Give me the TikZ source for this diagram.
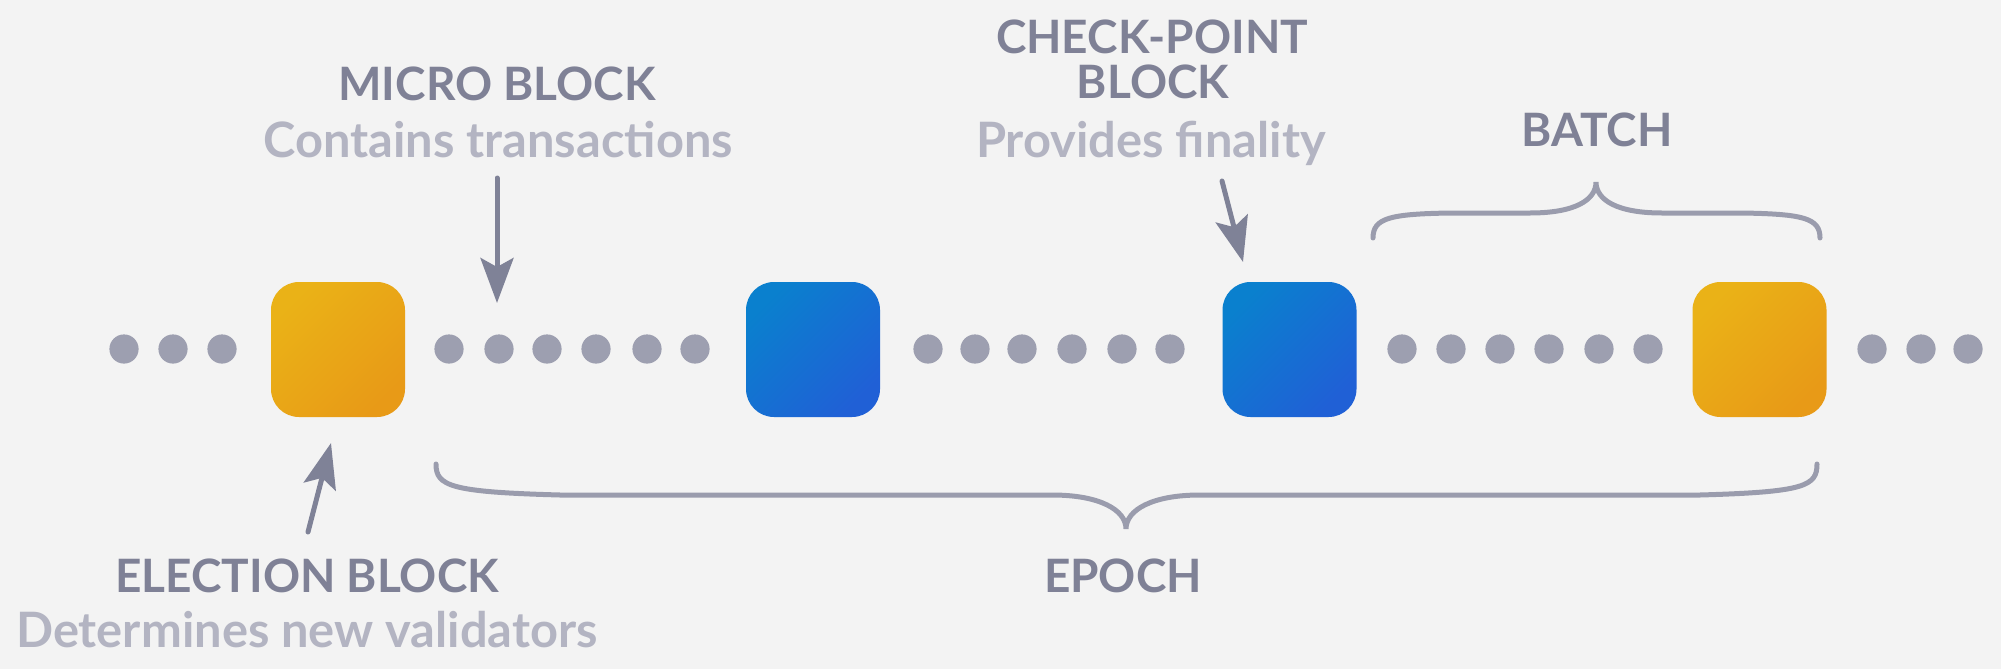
\documentclass[tikz,border=0pt]{standalone}
\usepackage{fontspec}
\setmainfont{Lato}
\usetikzlibrary{arrows.meta}
\definecolor{bgc}{HTML}{F3F3F3}
\definecolor{titlec}{HTML}{7F8196}
\definecolor{subc}{HTML}{B3B4C2}
\definecolor{dotc}{HTML}{9D9FB0}
\definecolor{bracec}{HTML}{9A9CAD}
\definecolor{arrowc}{HTML}{7F8297}
\definecolor{yellowa}{HTML}{EAB217}
\definecolor{yellowb}{HTML}{E89A17}
\definecolor{bluea}{HTML}{0A80CE}
\definecolor{blueb}{HTML}{2060D6}
\begin{document}
\begin{tikzpicture}[x=0.5pt, y=-0.5pt,
    every node/.style={font=\fontsize{23}{28}\selectfont\bfseries},
    title/.style={text=titlec, anchor=base},
    sub/.style={text=subc, anchor=base, font=\fontsize{24.4}{28}\selectfont\bfseries},
    block/.style={minimum width=67pt, minimum height=67.5pt, rounded corners=14pt, inner sep=0pt},
    electblock/.style={block, top color=yellowa, bottom color=yellowb, shading angle=45},
    microblock/.style={block, top color=bluea, bottom color=blueb, shading angle=45},
    pointer/.style={arrowc, line width=2.5pt, line cap=round, -{Stealth[length=22.5pt, width=16.5pt, inset=4.5pt]}},
    curly/.style={bracec, line width=2.5pt, line cap=round}]
    \useasboundingbox (0,0) rectangle (2001,669);
    \fill[bgc] (0,0) rectangle (2001,669);

    % Chain of blocks
    \foreach \x in {124,173,222,449,499,547,596,647,695,928,975,1022,1072,1122,1170,1402,1451,1500,1549,1599,1648,1872,1921,1968}
        \fill[dotc] (\x,349) circle (7.3pt);
    \node[electblock] (elect) at (338,349.5) {};
    \node[microblock] (micro) at (813,349.5) {};
    \node[microblock] (check) at (1289.5,349.5) {};
    \node[electblock] (elect2) at (1759.5,349.5) {};

    % Labels
    \node[title] (microtitle) at (497,100) {MICRO BLOCK};
    \node[sub] (microsub) at (498,157) {Contains transactions};
    \node[title] (checktitle) at (1152,53) {CHECK-POINT};
    \node[title] (checktitle2) at (1153,98) {BLOCK};
    \node[sub] (checksub) at (1151,157) {Provides finality};
    \node[title] (batchtitle) at (1597,146) {BATCH};
    \node[title] (electtitle) at (307,592) {ELECTION BLOCK};
    \node[sub] (electsub) at (307,647) {Determines new validators};
    \node[title] (epochtitle) at (1123,592) {EPOCH};

    % Pointers
    \coordinate (microtail) at (497,178);
    \coordinate (microtip) at (497,303);
    \coordinate (checktail) at (1222,181);
    \coordinate (checktip) at (1243,262);
    \coordinate (electtail) at (308,532);
    \coordinate (electtip) at (331,443);
    \draw[pointer] (microtail) -- (microtip);
    \draw[pointer] (checktail) -- (checktip);
    \draw[pointer] (electtail) -- (electtip);

    % Braces
    \draw[curly] (1373,238) .. controls (1373,218) and (1390,214) .. (1450,213) -- (1530,213)
        .. controls (1575,213) and (1596,200) .. (1596,182)
        .. controls (1596,200) and (1617,213) .. (1662,213) -- (1742,213)
        .. controls (1803,214) and (1820,218) .. (1820,238);
    \draw[curly] (436,464) .. controls (436,486) and (450,492) .. (560,495) -- (1052,495)
        .. controls (1100,495) and (1126,510) .. (1126,529)
        .. controls (1126,510) and (1152,495) .. (1200,495) -- (1700,495)
        .. controls (1805,492) and (1817,486) .. (1817,464);
\end{tikzpicture}
\end{document}
